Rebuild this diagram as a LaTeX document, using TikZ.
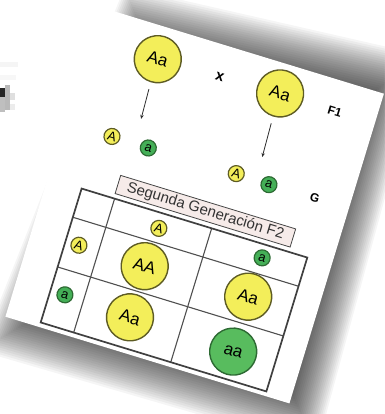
\documentclass[tikz,border=0pt]{standalone}
\usepackage{fontspec}
\setmainfont{Liberation Sans}
\usetikzlibrary{arrows.meta}
\definecolor{alleleyellow}{HTML}{F3EE5A}
\definecolor{yellowrim}{HTML}{5E5C24}
\definecolor{allelegreen}{HTML}{58BC5E}
\definecolor{smallgreen}{HTML}{44AF57}
\definecolor{greenrim}{HTML}{2D6A33}
\definecolor{titlefill}{HTML}{F6EBE9}
\definecolor{gridgray}{HTML}{505050}
\tikzset{
  bigyellow/.style={circle, draw=yellowrim, line width=1.4pt, fill=alleleyellow,
    minimum size=47pt, inner sep=0pt, font=\fontsize{17}{17}\selectfont},
  biggreen/.style={bigyellow, draw=greenrim, fill=allelegreen},
  smallyellow/.style={circle, draw=yellowrim, line width=1.2pt, fill=alleleyellow,
    minimum size=16pt, inner sep=0pt, font=\fontsize{13}{13}\selectfont},
  smallgreenc/.style={smallyellow, draw=greenrim, fill=smallgreen},
  tag/.style={font=\bfseries\fontsize{12}{12}\selectfont, inner sep=0pt},
  descent/.style={draw=gray!35!black, line width=0.8pt,
    -{Stealth[length=4pt,width=3.5pt]}, shorten <=7pt},
  outerline/.style={draw=gridgray!80!black, line width=1.7pt},
  innerline/.style={draw=gridgray, line width=1.1pt},
  titlebox/.style={draw=gray!55!black, line width=0.8pt, fill=titlefill,
    minimum width=183pt, minimum height=19pt, inner sep=0pt,
    font=\fontsize{15}{15}\selectfont, text=black!80},
}
\begin{document}
\begin{tikzpicture}[x=1pt,y=-1pt]
  \fill[white] (0,0) rectangle (384,414);
  \useasboundingbox (0,0) rectangle (384,414);

  % soft drop shadow under the sheet
  \foreach \k in {-11,...,11}{
    \pgfmathsetmacro\sc{1+\k*0.0125}
    \fill[black, opacity=0.04, scale around={\sc:(211.25,210.5)}]
      (135,14) -- (398,74) -- (304,420) -- (8,334) -- cycle;
  }
  % the sheet itself
  \fill[white] (100,7) -- (383.9,93.7) -- (289.4,403.4) -- (5.4,316.7) -- cycle;

  % pixel remnants at the left border
  \fill[gray!8]  (0,62) rectangle (18,67);
  \fill[gray!6]  (0,75) rectangle (16,80);
  \fill[gray!55] (5,85) rectangle (10,110);
  \fill[black!85] (0,88) rectangle (5,97);
  \fill[gray!50] (0,97) rectangle (5,112);
  \fill[gray!25] (10,93) rectangle (15,100);
  \fill[gray!15] (10,104) rectangle (15,110);

  \begin{scope}[shift={(100,7)}, rotate=-17, transform shape]
    % first filial generation and its gametes
    \node[bigyellow] (parentL) at (70.5,33) {Aa};
    \node[tag, font=\bfseries\fontsize{15}{15}\selectfont] (cross) at (135,31.5) {x};
    \node[bigyellow] (parentR) at (197.5,30) {Aa};
    \node[tag] (f1) at (255,31) {F1};
    \coordinate (tipL) at (72,95);
    \coordinate (tipR) at (199,96);
    \draw[descent] (parentL.south) -- (tipL);
    \draw[descent] (parentR.south) -- (tipR);
    \node[smallyellow] (gamLA) at (49.3,120.3) {A};
    \node[smallgreenc] (gamLa) at (87.4,120.7) {a};
    \node[smallyellow] (gamRA) at (179,119.5) {A};
    \node[smallgreenc] (gamRa) at (213.5,120.5) {a};
    \node[tag] (g) at (261.4,120) {G};

    % Punnett square
    \coordinate (tl) at (35.5,179);
    \coordinate (br) at (271.5,319);
    \draw[innerline] (70,179) -- (70,319);
    \draw[innerline] (171.5,179) -- (171.5,319);
    \draw[innerline] (35.5,209) -- (271.5,209);
    \draw[innerline] (35.5,261) -- (271.5,261);
    \draw[outerline] (tl) rectangle (br);

    \node[titlebox] (title) at (160.5,164.5) {Segunda Generación F2};

    \node[smallyellow] (headA) at (121,194.5) {A};
    \node[smallgreenc] (heada) at (228.4,192.5) {a};
    \node[smallyellow] (rowA) at (49.5,234) {A};
    \node[smallgreenc] (rowa) at (50.6,285.5) {a};

    \node[bigyellow] (cAA) at (118.5,234.8) {AA};
    \node[bigyellow] (cAaR) at (226.4,233.7) {Aa};
    \node[bigyellow] (cAaL) at (119.4,288) {Aa};
    \node[biggreen] (caa) at (228.1,290.6) {aa};
  \end{scope}
\end{tikzpicture}
\end{document}
